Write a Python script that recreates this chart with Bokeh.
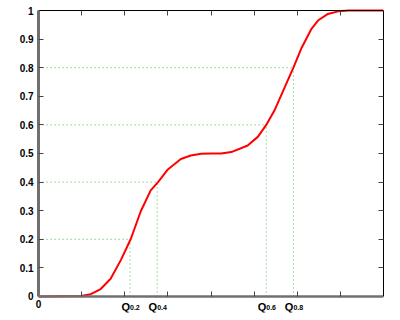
from bokeh.plotting import figure
from bokeh.models import LinearAxis, FixedTicker, Range1d
from bokeh.core.properties import value
from bokeh.embed import file_html
from bokeh.resources import INLINE

# Cumulative distribution curve (x, F(x))
curve_x = [0, 0.98, 1.21, 1.44, 1.67, 1.91, 2.14, 2.37, 2.60, 2.77, 2.99, 3.30, 3.53, 3.77, 4.00,
           4.23, 4.47, 4.85, 5.09, 5.28, 5.47, 5.71, 5.91, 6.09, 6.33, 6.48, 6.71, 6.95, 7.20, 8.0]
curve_y = [0, 0.002, 0.008, 0.026, 0.062, 0.128, 0.202, 0.298, 0.371, 0.40, 0.443, 0.481, 0.493, 0.499, 0.5,
           0.5, 0.505, 0.528, 0.559, 0.60, 0.65, 0.732, 0.80, 0.866, 0.936, 0.965, 0.988, 0.997, 1.0, 1.0]

# Quantiles
q_levels = [0.2, 0.4, 0.6, 0.8]
q_x = [2.12, 2.75, 5.28, 5.91]
q_subs = ["0.2", "0.4", "0.6", "0.8"]

x_ticks = [0, 1, 2, 3, 4, 5, 6, 7, 8]
x_tick_labels = ["0"]
y_ticks = [0, 0.1, 0.2, 0.3, 0.4, 0.5, 0.6, 0.7, 0.8, 0.9, 1.0]
y_labels = ["0", "0.1", "0.2", "0.3", "0.4", "0.5", "0.6", "0.7", "0.8", "0.9", "1"]

FONT = "Liberation Sans"

p = figure(width=400, height=320, output_backend="svg", toolbar_location=None,
           x_range=Range1d(-0.884, 8), y_range=Range1d(-0.056, 1.035),
           x_axis_location=None, y_axis_location=None,
           min_border_left=0, min_border_right=17, min_border_top=0, min_border_bottom=8)
p.xgrid.visible = False
p.ygrid.visible = False
p.outline_line_color = None
p.background_fill_color = "white"
p.border_fill_color = "white"

# dotted guide lines
green = "#4cb84c"
p.segment(x0=[0] * len(q_x), y0=q_levels, x1=q_x, y1=q_levels,
          line_color=green, line_dash="1 3", line_width=1)
p.segment(x0=q_x, y0=[0] * len(q_x), x1=q_x, y1=q_levels,
          line_color=green, line_dash="1 3", line_width=1)

# curve
p.line(curve_x, curve_y, line_color="#ff0000", line_width=2)

# bottom axis at y = 0 (ticks only)
xa = LinearAxis(fixed_location=0, bounds=(0, 8),
                ticker=FixedTicker(ticks=[], minor_ticks=x_ticks[1:-1]),
                axis_line_color="#707070", axis_line_width=2.5,
                major_tick_in=0, major_tick_out=0,
                minor_tick_in=5, minor_tick_out=0, minor_tick_line_color="#444444",
                major_label_standoff=0)
p.add_layout(xa, "below")

# left axis at x = 0 (ticks only, labels drawn as text)
ya = LinearAxis(fixed_location=0, bounds=(0, 1),
                ticker=FixedTicker(ticks=[], minor_ticks=y_ticks[1:-1]),
                axis_line_color="#707070", axis_line_width=3,
                major_tick_in=0, major_tick_out=0,
                minor_tick_in=5, minor_tick_out=0, minor_tick_line_color="#444444",
                major_label_standoff=0)
p.add_layout(ya, "left")

# top and right axes (ticks only)
top = LinearAxis(fixed_location=1, ticker=FixedTicker(ticks=[], minor_ticks=x_ticks[1:-1]),
                 bounds=(0, 8),
                 major_tick_in=0, major_tick_out=0, minor_tick_in=5, minor_tick_out=0,
                 minor_tick_line_color="#444444", axis_line_color="black",
                 major_label_standoff=0)
right = LinearAxis(ticker=FixedTicker(ticks=[], minor_ticks=y_ticks[1:-1]), bounds=(0, 1),
                   major_tick_in=0, major_tick_out=0, minor_tick_in=5, minor_tick_out=0,
                   minor_tick_line_color="#444444", axis_line_color="black",
                   major_label_standoff=0)
p.add_layout(top, "above")
p.add_layout(right, "right")

# y tick labels
p.text(x=[0] * len(y_ticks), y=y_ticks, text=y_labels, text_align="right", text_baseline="middle",
       x_offset=-5, text_font=value(FONT), text_font_style="bold", text_font_size="10px",
       text_color="black")

# x tick label "0"
p.text(x=x_ticks[:1], y=[0], text=x_tick_labels, text_align="center", text_baseline="top",
       y_offset=4, text_font=value(FONT), text_font_style="bold", text_font_size="10px",
       text_color="black")

# quantile labels
p.text(x=q_x, y=[0] * len(q_x), text=["Q"] * len(q_x), text_align="right",
       text_baseline="alphabetic", y_offset=11, text_font=value(FONT),
       text_font_style="bold", text_font_size="11px", text_color="black")
p.text(x=q_x, y=[0] * len(q_x), text=q_subs, text_align="left",
       text_baseline="alphabetic", y_offset=11, text_font=value(FONT),
       text_font_style="bold", text_font_size="7px", text_color="black")

open("out.html", "w").write(file_html(p, INLINE))
